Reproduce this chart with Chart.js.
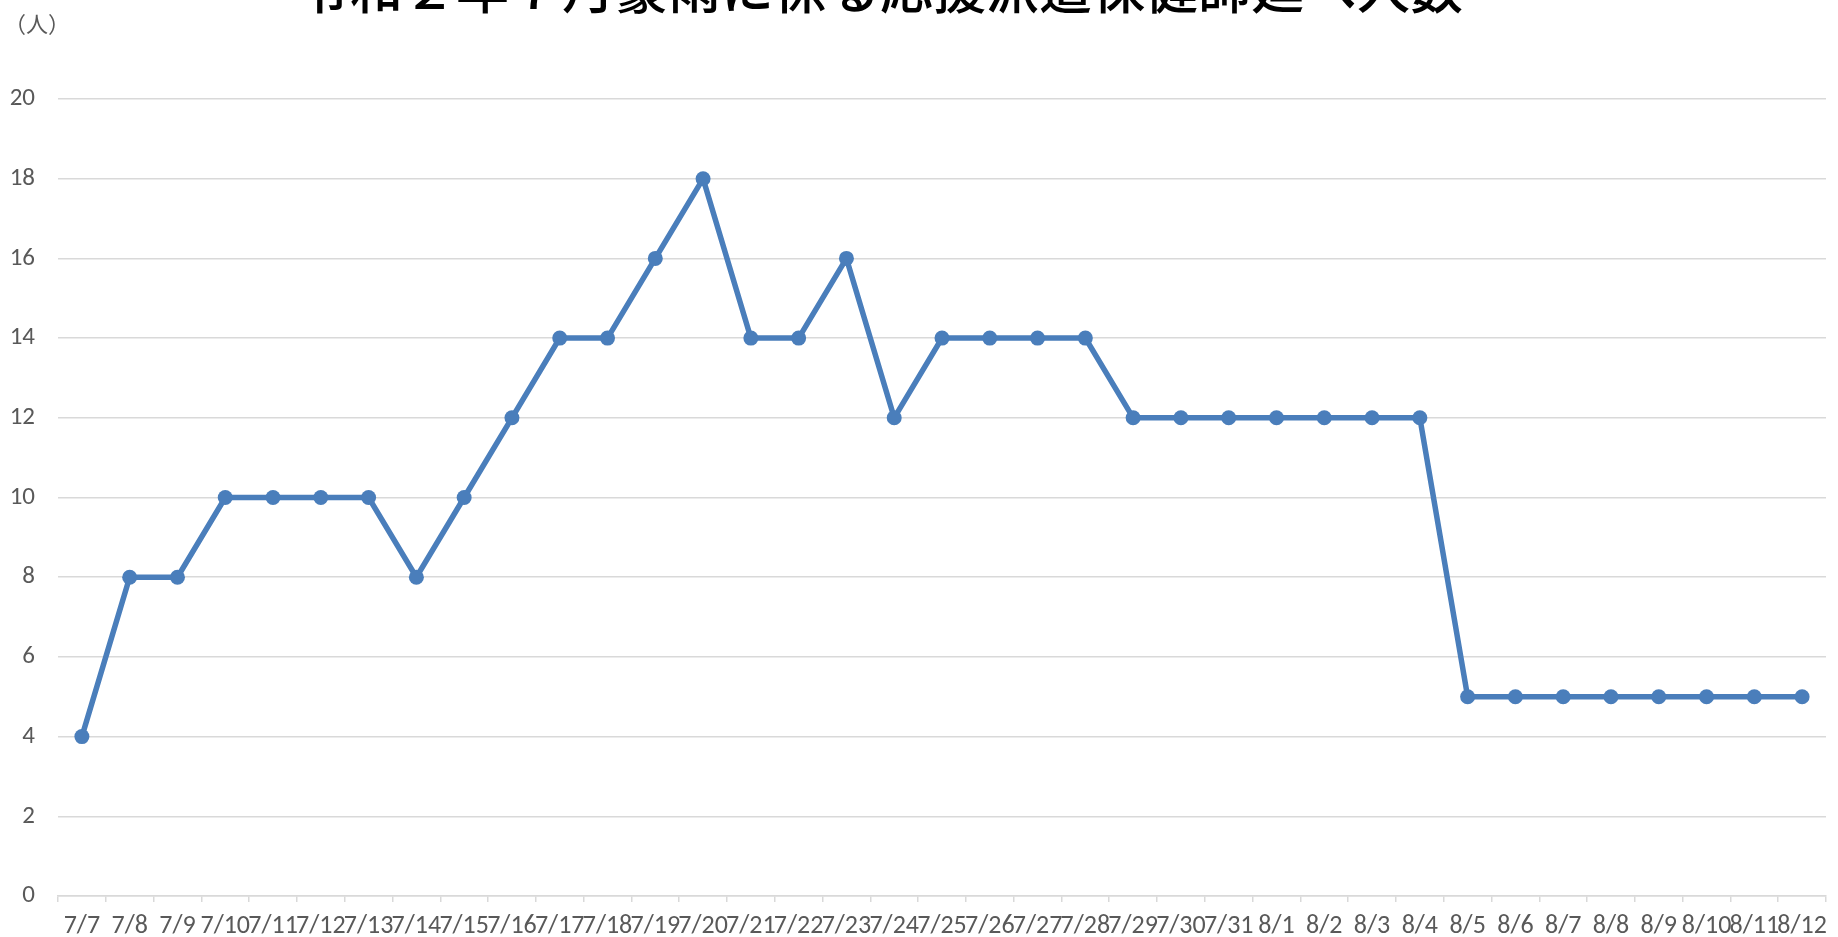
<!DOCTYPE html>
<html lang="ja">
<head>
<meta charset="utf-8">
<title>令和２年７月豪雨に係る応援派遣保健師延べ人数</title>
<script src="https://cdn.jsdelivr.net/npm/chart.js@4"></script>
<style>
    html, body { margin: 0; padding: 0; background: #fff; }
    #wrap { position: relative; width: 1838px; height: 937px; overflow: hidden; }
</style>
</head>
<body>
<div id="wrap">
    <canvas id="staffChart" width="1838" height="937"></canvas>
</div>
<script>
const chartTitle = '令和２年７月豪雨に係る応援派遣保健師延べ人数';
const unitLabel = '（人）';

const dates = [
    '7/7', '7/8', '7/9', '7/10', '7/11', '7/12', '7/13', '7/14', '7/15', '7/16',
    '7/17', '7/18', '7/19', '7/20', '7/21', '7/22', '7/23', '7/24', '7/25', '7/26',
    '7/27', '7/28', '7/29', '7/30', '7/31', '8/1', '8/2', '8/3', '8/4', '8/5',
    '8/6', '8/7', '8/8', '8/9', '8/10', '8/11', '8/12'
];
const staffCounts = [
    4, 8, 8, 10, 10, 10, 10, 8, 10, 12,
    14, 14, 16, 18, 14, 14, 16, 12, 14, 14,
    14, 14, 12, 12, 12, 12, 12, 12, 12, 5,
    5, 5, 5, 5, 5, 5, 5
];
const yTicks = [0, 2, 4, 6, 8, 10, 12, 14, 16, 18, 20];

const lineBlue = '#4a7ebb';
const labelGray = '#595959';
const gridGray = '#d9d9d9';
const tickFont = "Carlito, Calibri, Lato, sans-serif";

// title + unit label, drawn on the canvas
const headerText = {
    id: 'headerText',
    afterDraw(chart) {
        const ctx = chart.ctx;
        ctx.save();
        ctx.fillStyle = '#000';
        ctx.font = '500 53px "Noto Sans CJK JP", sans-serif';
        ctx.textAlign = 'center';
        ctx.textBaseline = 'alphabetic';
        ctx.fillText(chartTitle, 880, 9);

        ctx.fillStyle = labelGray;
        ctx.font = '400 22px "Noto Sans CJK JP", sans-serif';
        ctx.textAlign = 'left';
        ctx.textBaseline = 'middle';
        ctx.fillText(unitLabel, 4, 24);
        ctx.restore();
    }
};

new Chart(document.getElementById('staffChart'), {
    type: 'line',
    data: {
        labels: dates,
        datasets: [{
            data: staffCounts,
            borderColor: lineBlue,
            backgroundColor: lineBlue,
            borderWidth: 5.5,
            pointRadius: 7.5,
            pointHoverRadius: 7.5,
            pointBorderWidth: 0,
            tension: 0,
            fill: false
        }]
    },
    options: {
        responsive: false,
        animation: false,
        layout: {
            padding: { top: 99, right: 5, bottom: 0, left: 9 }
        },
        plugins: {
            legend: { display: false },
            title: { display: false },
            tooltip: { enabled: false }
        },
        scales: {
            x: {
                offset: true,
                afterFit(axis) {
                    axis.height = 41;
                },
                grid: {
                    offset: true,
                    drawOnChartArea: false,
                    color: gridGray,
                    lineWidth: 1.5,
                    tickLength: 6
                },
                border: { color: gridGray, width: 1.5 },
                ticks: {
                    autoSkip: false,
                    maxRotation: 0,
                    minRotation: 0,
                    padding: 11,
                    color: labelGray,
                    font: { family: tickFont, size: 26, lineHeight: 1 }
                }
            },
            y: {
                min: 0,
                max: 20,
                afterBuildTicks(axis) {
                    axis.ticks = yTicks.map((v) => ({ value: v }));
                },
                afterFit(axis) {
                    axis.width = 49;
                },
                grid: {
                    color: gridGray,
                    lineWidth: 1.5,
                    drawTicks: false
                },
                border: { display: false },
                ticks: {
                    padding: 23,
                    color: labelGray,
                    font: { family: tickFont, size: 25 }
                }
            }
        }
    },
    plugins: [headerText]
});
</script>
</body>
</html>
